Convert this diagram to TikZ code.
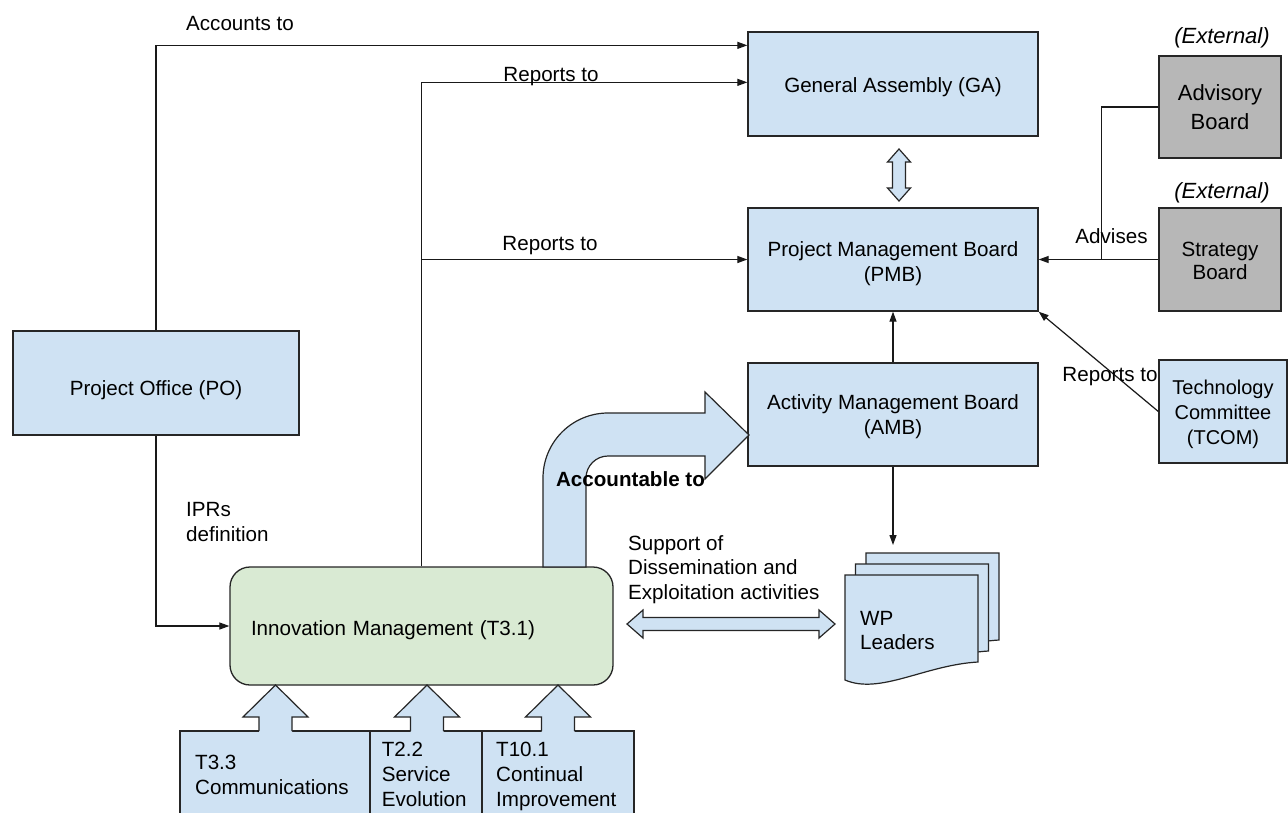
\documentclass[tikz,border=0pt]{standalone}
\usepackage{fontspec}
\setmainfont{Liberation Sans}
\usetikzlibrary{arrows.meta,calc}
\definecolor{lblue}{HTML}{CFE2F3}
\definecolor{lgreen}{HTML}{D9EAD3}
\definecolor{lgray}{HTML}{B7B7B7}
\newcommand{\tstr}[1]{\rule{0pt}{#1}}
\newcommand{\bstr}{\rule[-5pt]{0pt}{5pt}}
\tikzset{
  box/.style={draw=black!85,line width=1.3pt,fill=lblue,inner sep=0pt,align=center},
  conn/.style={line width=1.2pt,draw=black!90},
  arr/.style={conn,-{Triangle[length=10pt,width=7pt]}},
  blk/.style={draw=black!85,line width=1.2pt,fill=lblue,line join=miter},
  lbl/.style={inner sep=0pt},
  mlbl/.style={inner sep=0pt,align=left,anchor=north west},
}
\begin{document}
\begin{tikzpicture}[x=1pt,y=-1pt,font=\fontsize{20.6}{25}\selectfont]
\useasboundingbox (0,0) rectangle (1288,812);
\fill[white] (0,0) rectangle (1288,812);

% main boxes
\node[box,minimum width=290pt,minimum height=104pt] (GA) at (893,84) {\tstr{21.2pt}General Assembly (GA)\bstr};
\node[box,minimum width=290pt,minimum height=103pt] (PMB) at (893,259.5) {\tstr{23.8pt}Project Management Board\\(PMB)\bstr};
\node[box,minimum width=290pt,minimum height=103pt] (AMB) at (893,414.5) {\tstr{20.3pt}Activity Management Board\\(AMB)\bstr};
\node[box,minimum width=286pt,minimum height=104pt] (PO) at (156,383) {\tstr{29.8pt}Project Office (PO)\bstr};
\node[box,fill=lgray,minimum width=122pt,minimum height=102pt,font=\fontsize{22}{29}\selectfont] (ADV) at (1220,107) {\tstr{20.8pt}Advisory\\Board\bstr};
\node[box,fill=lgray,minimum width=122pt,minimum height=103pt,font=\fontsize{20.6}{23.5}\selectfont] (STR) at (1220,259.5) {\tstr{21.6pt}Strategy\\Board\bstr};
\node[box,minimum width=128pt,minimum height=103pt,font=\fontsize{20}{25}\selectfont] (TCOM) at (1223,411.5) {\tstr{20.4pt}Technology\\Committee\\(TCOM)\bstr};
\node[box,fill=lgreen,rounded corners=20pt,minimum height=118pt,text width=341pt,inner xsep=21pt,align=left] (INN) at (421.5,626) {\tstr{23.8pt}Innovation Management (T3.1)\bstr};

% task boxes
\node[box,minimum width=190pt,minimum height=110pt] (T33) at (275,786) {};
\node[box,minimum width=112pt,minimum height=110pt] (T22) at (426,786) {};
\node[box,minimum width=152pt,minimum height=110pt] (T101) at (558,786) {};
\node[mlbl] (T33t) at (195,755) {T3.3\\Communications};
\node[mlbl] (T22t) at (381.7,742) {T2.2\\Service\\Evolution};
\node[mlbl] (T101t) at (496,742) {T10.1\\Continual\\Improvement};

% up block arrows
\foreach \cx in {275.5,427,558}{
  \fill[lblue] (\cx-16.5,732.5) -- (\cx-16.5,717) -- (\cx-32.5,717) -- (\cx,685) -- (\cx+32.5,717) -- (\cx+16.5,717) -- (\cx+16.5,732.5) -- cycle;
  \draw[conn,draw=black!85,line join=miter] (\cx-16.5,731) -- (\cx-16.5,717) -- (\cx-32.5,717) -- (\cx,685) -- (\cx+32.5,717) -- (\cx+16.5,717) -- (\cx+16.5,731);
}

% double arrow GA <-> PMB
\filldraw[blk] (899,149) -- (910.5,162) -- (905.5,162) -- (905.5,188) -- (910.5,188) -- (899,201) -- (887.5,188) -- (892.5,188) -- (892.5,162) -- (887.5,162) -- cycle;

% double arrow Innovation <-> WP
\filldraw[blk] (627,624) -- (643,610) -- (643,617.5) -- (819,617.5) -- (819,610) -- (835,624) -- (819,638) -- (819,630.5) -- (643,630.5) -- (643,638) -- cycle;

% curved block arrow to AMB
\filldraw[blk] (543,567) -- (543,478) .. controls (543,442.1) and (572.1,413) .. (608,413) -- (705,413) -- (705,392) -- (749,435) -- (705,479) -- (705,456) -- (608,456) .. controls (595.9,456) and (586,465.9) .. (586,478) -- (586,567) -- cycle;
\node[lbl,anchor=base,font=\fontsize{20.6}{25}\selectfont\bfseries] (lacct) at (630.5,486) {Accountable to};

% WP leaders documents
\foreach \dx/\dy in {21/-22,10.5/-11,0/0}{
  \filldraw[blk,shift={(\dx,\dy)}] (845,575) -- (978,575) -- (978,662) .. controls (925,665) and (880,695) .. (845,680) -- cycle;
}
\node[mlbl,font=\fontsize{20.6}{24}\selectfont] (WP) at (860,611) {WP\\Leaders};
\coordinate (wptop) at (893,545);

% connectors
\draw[arr] (PO.north) |- ([yshift=-14pt]GA.north west);
\draw[arr] (INN.north) |- ([yshift=-51pt]GA.north west);
\draw[arr] (INN.north |- PMB.west) -- (PMB.west);
\coordinate (advj) at ($(STR.west)+(-57,0)$);
\draw[conn] (ADV.west) -| (advj);
\draw[arr] (STR.west) -- (PMB.east);
\draw[arr] (TCOM.west) -- (PMB.south east);
\draw[arr] (AMB.north) -- (PMB.south);
\draw[arr] (AMB.south) -- (wptop);
\draw[arr] (PO.south) |- (INN.west);

% labels
\node[lbl,anchor=base] (lacc) at (240,30.5) {Accounts to};
\node[lbl,anchor=base] (lrep1) at (551,81.5) {Reports to};
\node[lbl,anchor=base] (lrep2) at (550,250.5) {Reports to};
\node[lbl,anchor=base] (ladv) at (1111.5,243) {Advises};
\node[lbl,anchor=base] (lrep3) at (1110,381.5) {Reports to};
\node[lbl,anchor=base,font=\fontsize{22}{26}\selectfont\itshape] (ext1) at (1222,43.3) {(External)};
\node[lbl,anchor=base,font=\fontsize{22}{26}\selectfont\itshape] (ext2) at (1222,198.3) {(External)};
\node[mlbl] (lipr) at (186,502.6) {IPRs\\definition};
\node[mlbl,font=\fontsize{20.6}{24.5}\selectfont] (lsup) at (628,535) {Support of\\Dissemination and\\Exploitation activities};
\end{tikzpicture}
\end{document}
